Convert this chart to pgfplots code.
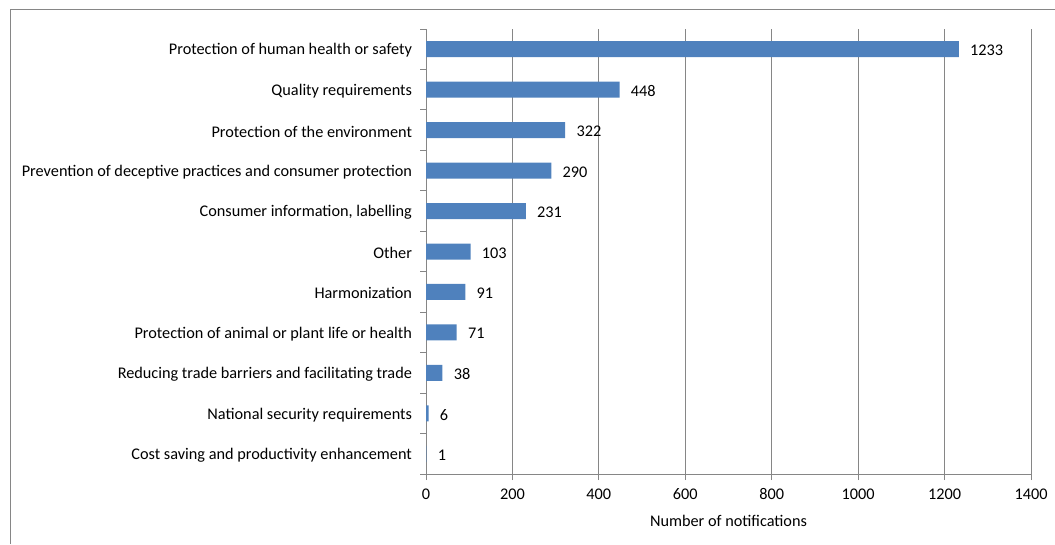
\documentclass[border=0pt]{standalone}
\usepackage{pgfplots}
\pgfplotsset{compat=1.18}
\usepackage{fontspec}
\setmainfont{Carlito}
\definecolor{barblue}{HTML}{4F81BD}
\definecolor{gridgray}{HTML}{868686}
\begin{document}
\begin{tikzpicture}
\path[use as bounding box] (0pt,0pt) rectangle (791.25pt,408pt);
\draw[gridgray, line width=0.75pt] (7.5pt,0pt) -- (7.5pt,400.5pt) -- (791.25pt,400.5pt);
\begin{axis}[
  at={(319.5pt,52.5pt)}, anchor=south west,
  scale only axis, width=453.75pt, height=333.75pt,
  xbar, bar width=12pt,
  xmin=0, xmax=1400, ymin=-0.5, ymax=10.5, y dir=reverse,
  axis x line*=bottom, axis y line*=left,
  axis line style={gridgray, line width=0.75pt, -},
  tick align=outside, major tick length=4.5pt,
  tick style={gridgray, line width=0.75pt},
  xtick={0,200,...,1400},
  xticklabel style={yshift=-3pt},
  xmajorgrids, major grid style={gridgray, line width=0.75pt},
  ytick={-0.5,0.5,...,10.5},
  yticklabels={},
  extra y ticks={0,...,10},
  extra y tick labels={Protection of human health or safety, Quality requirements, Protection of the environment, Prevention of deceptive practices and consumer protection, {Consumer information, labelling}, Other, Harmonization, Protection of animal or plant life or health, Reducing trade barriers and facilitating trade, National security requirements, Cost saving and productivity enhancement},
  extra y tick style={major tick length=0pt, yticklabel style={xshift=-7pt, yshift=-1pt}},
  ticklabel style={font=\fontsize{12.2}{14}\selectfont, text=black},
  /pgf/number format/assume math mode=true,
  /pgf/number format/1000 sep={},
  xlabel={Number of notifications},
  xlabel style={font=\fontsize{12.2}{14}\selectfont, yshift=-4.5pt},
  nodes near coords,
  every node near coord/.append style={anchor=west, xshift=5pt, yshift=-1pt, font=\fontsize{12.2}{14}\selectfont, text=black},
]
\addplot[fill=barblue, draw=none] coordinates {
 (1233,0) (448,1) (322,2) (290,3) (231,4) (103,5) (91,6) (71,7) (38,8) (6,9) (1,10)
};
\end{axis}
\end{tikzpicture}
\end{document}
